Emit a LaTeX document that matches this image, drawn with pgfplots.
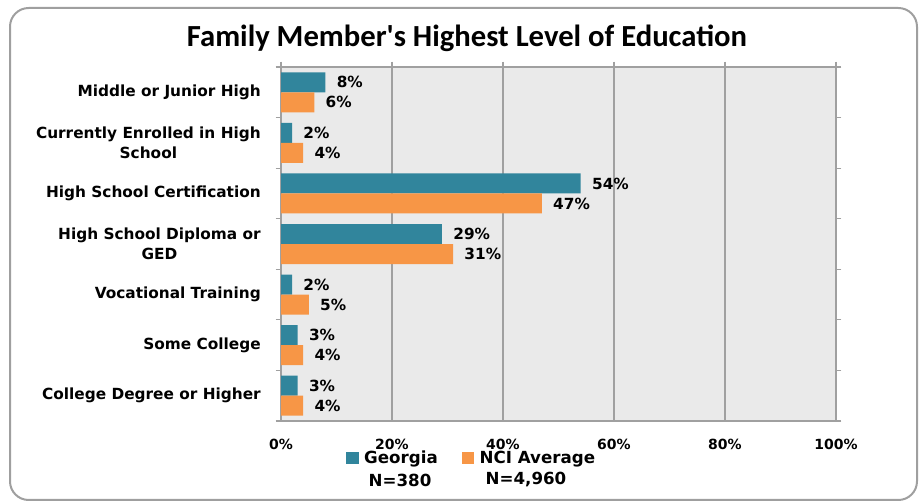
\documentclass[border=0pt]{standalone}
\usepackage{pgfplots}
\pgfplotsset{compat=1.18}
\usepackage{fontspec}
\setmainfont{DejaVu Sans}
\newfontfamily\titlefont{Carlito}
\definecolor{geo}{HTML}{31859C}
\definecolor{nci}{HTML}{F79646}
\definecolor{plotbg}{HTML}{EAEAEA}
\definecolor{gridc}{HTML}{A0A0A0}

\begin{document}
\begin{tikzpicture}[x=0.75pt,y=0.75pt]
\useasboundingbox (0,0) rectangle (921,503);
\draw[rounded corners=14pt, draw=gray!75, line width=1.5pt] (10,3) rectangle (917,495);
\node[font=\titlefont\bfseries\fontsize{23}{27}\selectfont] at (467,465) {Family Member's Highest Level of Education};
\begin{axis}[
  at={(210.75pt,61.5pt)}, anchor=south west,
  scale only axis, width=416.25pt, height=265.5pt,
  xbar, bar width=15pt,
  xmin=0, xmax=100,
  ymin=-0.5, ymax=6.5, y dir=reverse,
  axis background/.style={fill=plotbg},
  axis line style={gridc, line width=0.8pt},
  xmajorgrids, grid style={gridc, line width=0.8pt},
  xtick={0,20,...,100},
  xticklabel={\pgfmathprintnumber{\tick}\%},
  xtick pos=upper, xticklabel pos=lower, xtick align=outside,
  xtick style={gridc, line width=0.8pt},
  major tick length=4pt,
  xticklabel style={font=\bfseries\fontsize{10.5}{12}\selectfont, yshift=-6pt},
  /pgf/number format/assume math mode=true,
  ytick={0,...,6},
  yticklabels={Middle or Junior High, Currently Enrolled in High\\School, High School Certification, High School Diploma or\\GED, Vocational Training, Some College, College Degree or Higher},
  yticklabel style={font=\bfseries\fontsize{11.5}{15}\selectfont, align=center, inner sep=0pt, xshift=-11pt},
  ytick style={draw=none},
  extra y ticks={-0.5,0.5,...,6.5},
  extra y tick labels={},
  extra y tick style={tick align=outside, ytick style={draw=gridc, line width=0.8pt}, grid=none},
  nodes near coords={\pgfmathprintnumber{\pgfplotspointmeta}\%},
  every node near coord/.append style={font=\bfseries\fontsize{11.5}{13}\selectfont, anchor=west, xshift=5pt},
  legend style={at={(0.117,-0.105)}, anchor=west, draw=none, fill=none, inner sep=0pt,
    font=\bfseries\fontsize{12.5}{15}\selectfont, column sep=2pt,
    /tikz/every even column/.append style={column sep=16pt},
    nodes={inner sep=2pt}},
  legend cell align=left,
  legend columns=2,
  legend image code/.code={\fill[#1] (0pt,-4.5pt) rectangle (9.5pt,4.5pt);},
]
\addplot[draw=none, fill=geo, bar shift=7.5pt] coordinates {(8,0) (2,1) (54,2) (29,3) (2,4) (3,5) (3,6)};
\addplot[draw=none, fill=nci, bar shift=-7.5pt] coordinates {(6,0) (4,1) (47,2) (31,3) (5,4) (4,5) (4,6)};
\legend{Georgia, NCI Average}
\end{axis}
\node[font=\bfseries\fontsize{12.5}{15}\selectfont] at (400,23) {N=380};
\node[font=\bfseries\fontsize{12.5}{15}\selectfont] at (526,23) {N=4,960};
\end{tikzpicture}
\end{document}
